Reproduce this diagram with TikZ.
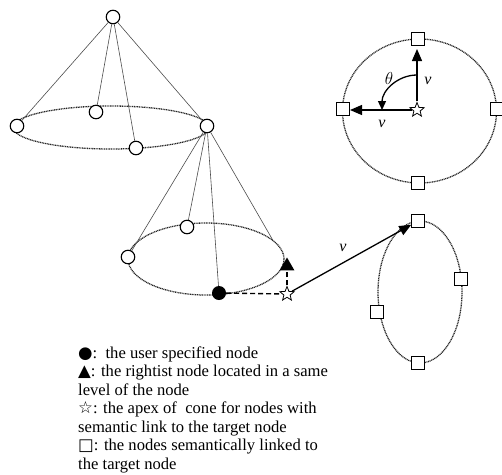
\documentclass[tikz,border=0pt]{standalone}
\usepackage{fontspec}
\setmainfont{Liberation Serif}
\newfontfamily\symf{DejaVu Sans}
\usetikzlibrary{shapes.geometric,arrows.meta,calc}
\begin{document}
\begin{tikzpicture}[x=1pt,y=-1pt,
  onode/.style={circle,draw,line width=1.1pt,minimum size=13.5pt,inner sep=0pt,fill=white},
  fnode/.style={circle,fill=black,minimum size=14pt,inner sep=0pt},
  sqnode/.style={rectangle,draw,line width=1pt,minimum size=12.5pt,inner sep=0pt,fill=white},
  trinode/.style={regular polygon,regular polygon sides=3,fill=black,minimum size=17pt,inner sep=0pt},
  starnode/.style={star,star points=5,star point ratio=2.3,draw,line width=0.8pt,minimum size=15pt,inner sep=0pt,fill=white},
  ell/.style={dash pattern=on 1pt off 0.7pt,line width=1.3pt,draw=black!85},
  conel/.style={draw=black!70,line width=0.6pt},
  vec/.style={line width=1.3pt,-{Triangle[length=12pt,width=10pt]}},
  dsh/.style={line width=1.4pt,dash pattern=on 5pt off 3pt},
  lab/.style={font=\fontsize{16}{16}\selectfont\itshape,inner sep=1pt}
]
\useasboundingbox (0,0) rectangle (502,474);

% ---- top cone ----
\draw[ell] (111,127.5) ellipse [x radius=98pt, y radius=21.5pt];
\node[onode] (a0) at (113,17) {};
\node[onode] (a1) at (17,126) {};
\node[onode] (a2) at (96,112) {};
\node[onode] (a3) at (136,148) {};
\node[onode] (a4) at (207,126) {};
\draw[conel] (a0) -- (a1);
\draw[conel] (a0) -- (a2);
\draw[conel] (a0) -- (a3);
\draw[conel] (a0) -- (a4);

% ---- second cone ----
\draw[ell] (206,259) ellipse [x radius=78pt, y radius=36pt];
\coordinate (b4) at (273,240.5);
\node[onode] (b1) at (128,257) {};
\node[onode] (b2) at (187,227) {};
\node[fnode] (b3) at (219,293) {};
\draw[conel] (a4) -- (b1);
\draw[conel] (a4) -- (b2);
\draw[conel] (a4) -- (b3);
\draw[conel] (a4) -- (b4);
\node[trinode] (tri) at (287,266) {};
\node[starnode] (s1) at (287,294) {};
\draw[dsh] (b3) -- (s1);
\draw[dsh] (s1) -- (tri);

% ---- right vertical ellipse ----
\draw[ell] (420,292) ellipse [x radius=42pt, y radius=71pt];
\node[sqnode] (q1) at (418,221) {};
\node[sqnode] (q2) at (461,279) {};
\node[sqnode] (q3) at (377,312) {};
\node[sqnode] (q4) at (418,363) {};
\draw[vec] (s1) -- (q1);
\node[lab] (v1) at (343,248) {v};

% ---- top right circle ----
\draw[ell] (419.5,111) ellipse [x radius=77pt, y radius=72pt];
\node[sqnode] (r1) at (418,39) {};
\node[sqnode] (r2) at (343,109) {};
\node[sqnode] (r3) at (497,109) {};
\node[sqnode] (r4) at (418,183) {};
\node[starnode] (s2) at (417,110) {};
\coordinate (uptip) at (417,49);
\coordinate (lefttip) at (350,110);
\draw[vec] (s2) -- (uptip);
\draw[vec] (s2) -- (lefttip);
\coordinate (arcstart) at (417,75);
\draw[line width=1.3pt,-{Triangle[length=9pt,width=8pt]}] (arcstart) arc[start angle=90,end angle=180,radius=35pt];
\node[lab] (v2) at (428,81) {v};
\node[lab] (v3) at (382,124) {v};
\node[inner sep=1pt,font=\fontsize{19}{19}\selectfont] (th) at (389,78) {$\theta$};

% ---- legend ----
\node[anchor=north west,align=left,inner sep=0pt,font=\fontsize{16.6}{18.5}\selectfont] (leg) at (78,346.5)
{{\symf ●}:\ \ the user specified node\\
{\symf ▲}: the rightist node located in a same\\
level of the node\\
{\symf ☆}: the apex of\ \ cone for nodes with\\
semantic link to the target node\\
{\symf □}: the nodes semantically linked to\\
the target node};
\end{tikzpicture}
\end{document}
